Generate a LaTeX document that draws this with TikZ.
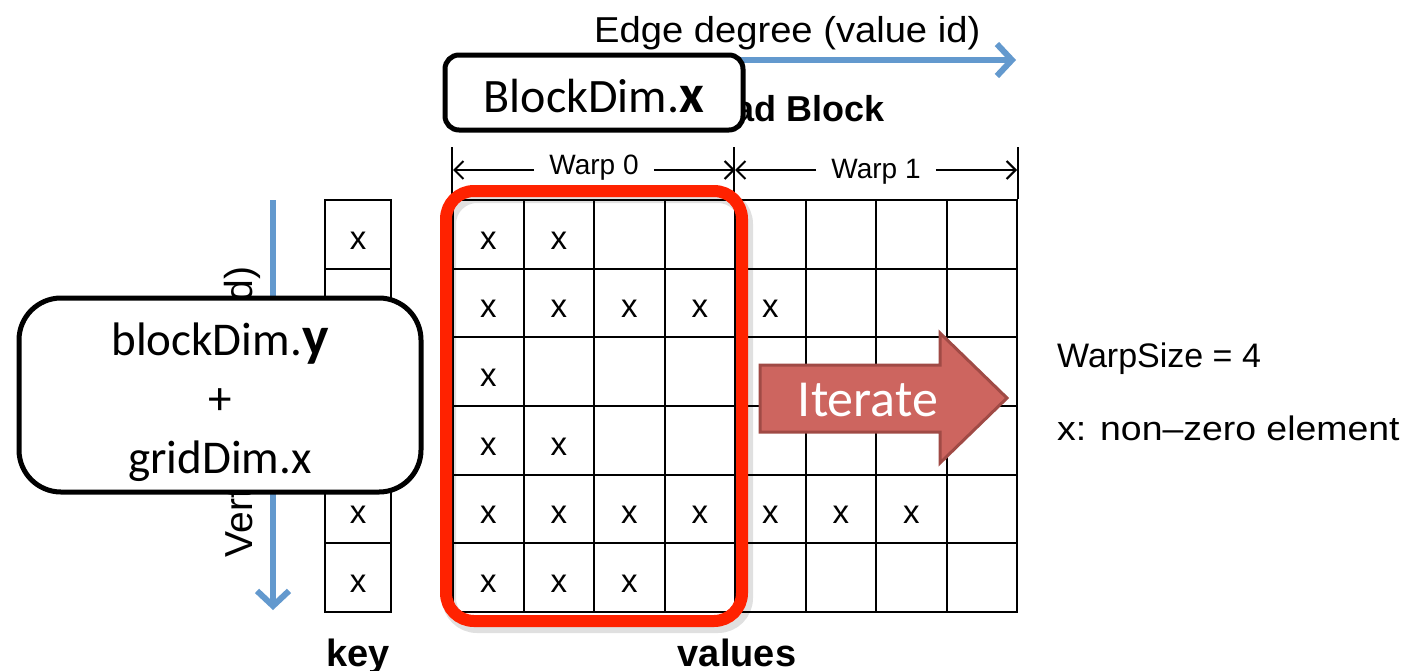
\documentclass[tikz,border=0pt]{standalone}
\usepackage{fontspec}
\setmainfont{Liberation Sans}
\newfontfamily\calfont{Carlito}
\usetikzlibrary{arrows.meta}
\definecolor{bluearr}{RGB}{99,153,206}
\definecolor{redbox}{RGB}{255,34,0}
\definecolor{iterfill}{RGB}{205,101,95}
\definecolor{iterdraw}{RGB}{160,74,69}
\begin{document}
\begin{tikzpicture}[x=1pt,y=-1pt,
  fs/.style={font=\fontsize{#1}{#1}\selectfont},
  cell/.style={draw, line width=2pt, minimum width=70.5pt, minimum height=68.67pt, inner sep=0pt},
  kcell/.style={draw, line width=2pt, minimum width=66pt, minimum height=68.67pt, inner sep=0pt},
  xm/.style={fs=33, inner sep=0pt},
  bluearrow/.style={draw=bluearr, line width=6pt, -{Straight Barb[length=15pt,width=32pt]}},
  warparrow/.style={line width=2pt, -{Straight Barb[length=9pt,width=18pt]}},
  tick/.style={line width=1.5pt},
  roundbox/.style={draw, line width=5pt, fill=white},
]
\useasboundingbox (0,0) rectangle (1418,670);
\fill[white] (0,0) rectangle (1418,670);

% blue axis arrows and their labels
\coordinate (hs) at (453,60);
\coordinate (he) at (1016,60);
\draw[bluearrow] (hs) -- (he);
\node[fs=36, xscale=1.06, anchor=base west, inner sep=0pt] (edge) at (594,42) {Edge degree (value id)};
\coordinate (vs) at (273,200);
\coordinate (ve) at (273,610);
\node[fs=39, rotate=90, inner sep=0pt] (vert) at (242,412) {Vertex id (key id)};
\draw[bluearrow] (vs) -- (ve);

% values grid
\foreach \r in {1,...,6}
  \foreach \c in {1,...,8}
    \node[cell] (v\r\c) at ({453+70.5*(\c-0.5)},{200+68.67*(\r-0.5)}) {};
\foreach \r/\c in {1/1,1/2,2/1,2/2,2/3,2/4,2/5,3/1,4/1,4/2,5/1,5/2,5/3,5/4,5/5,5/6,5/7,6/1,6/2,6/3}
  \node[xm] (x\r\c) at ([yshift=-6pt]v\r\c.center) {x};

% key column
\foreach \r in {1,...,6} {
  \node[kcell] (k\r) at (358,{200+68.67*(\r-0.5)}) {};
  \node[xm] (kx\r) at ([yshift=-6pt]k\r.center) {x};
}

% warp annotations
\coordinate (t0) at (453,170);
\coordinate (t1) at (735,170);
\coordinate (t2) at (1017,170);
\draw[tick] (v11.north west) -- ++(0,-52);
\draw[tick] (v15.north west) -- ++(0,-52);
\draw[tick] (v18.north east) -- ++(0,-52);
\node[fs=28, inner xsep=15pt, inner ysep=0pt] (w0) at (594,168) {Warp 0};
\node[fs=28, inner xsep=15pt, inner ysep=0pt] (w1) at (876,172) {Warp 1};
\draw[warparrow] (w0.west |- t0) -- (t0);
\draw[warparrow] (w0.east |- t1) -- (t1);
\draw[warparrow] (w1.west |- t1) -- (t1);
\draw[warparrow] (w1.east |- t2) -- (t2);

% thread block label and BlockDim.x box
\node[font=\bfseries\fontsize{36}{36}\selectfont, anchor=base east, inner sep=0pt] (tb) at (885,121) {Thread Block};
\draw[roundbox, rounded corners=14pt] (445,55) rectangle (743,130);
\node[inner sep=0pt, font=\calfont\fontsize{48}{48}\selectfont] (bdx) at (594,96) {BlockDim.\textbf{\fontsize{54}{54}\selectfont x}};

% red selection box with shadow
\draw[line width=14pt, black, opacity=0.12, rounded corners=28pt] (449,196) rectangle (746,626);
\draw[line width=12pt, redbox, rounded corners=28pt] (446,191) rectangle (742,621);

% Iterate arrow
\draw[fill=iterfill, draw=iterdraw, line width=3pt, line join=miter]
  (760,365) -- (940,365) -- (940,333) -- (1007,398) -- (940,463) -- (940,432) -- (760,432) -- cycle;
\node[text=white, inner sep=0pt, font=\calfont\fontsize{52}{52}\selectfont] (iter) at (868,400) {Iterate};

% blockDim.y box
\draw[roundbox, rounded corners=42pt] (19,298) rectangle (421,492);
\node[align=center, inner sep=0pt, font=\calfont\fontsize{47}{59}\selectfont] (bdy) at (220,402)
  {blockDim.\textbf{\fontsize{56}{59}\selectfont y}\\+\\gridDim.x};

% legend
\node[fs=34, anchor=base west, inner sep=0pt] (ws) at (1057,367) {WarpSize = 4};
\node[fs=34, xscale=1.1, anchor=base west, inner sep=0pt] (nz) at (1057,440) {x: non–zero element};

% bottom labels
\node[font=\bfseries\fontsize{38}{38}\selectfont, anchor=base, inner sep=0pt] (key) at (358,666) {key};
\node[font=\bfseries\fontsize{38}{38}\selectfont, anchor=base, inner sep=0pt] (vals) at (737,666) {values};
\end{tikzpicture}
\end{document}
